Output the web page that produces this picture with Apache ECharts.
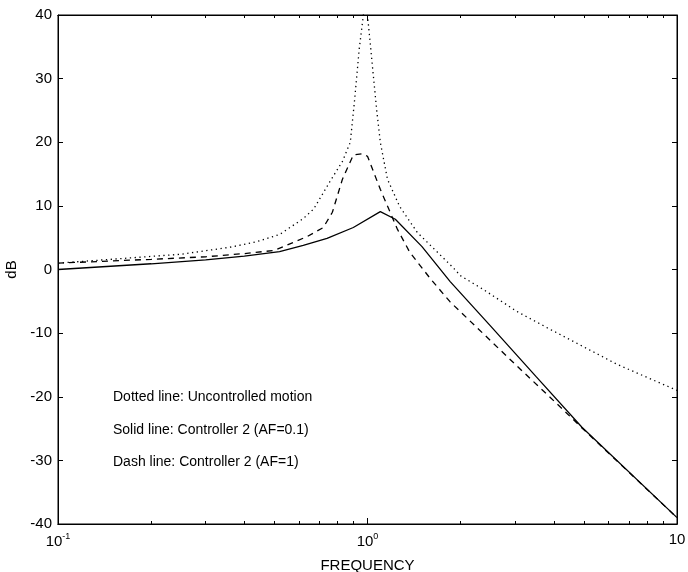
<!DOCTYPE html>
<html>
<head>
    <meta charset="utf-8">
    <title>dB vs frequency</title>
    <script src="https://cdn.jsdelivr.net/npm/echarts@6/dist/echarts.min.js"></script>
    <style>
        html, body {margin: 0; padding: 0; background: #fff;}
        #container {width: 688px; height: 572px;}
    </style>
</head>
<body>
<div id="container"></div>

<script type="text/javascript">
    // 数据
    var dottedFreq = [0.1, 0.25, 0.36, 0.44, 0.52, 0.62, 0.67, 0.76, 0.83, 0.88, 0.91, 0.94, 0.97, 0.985, 1.0, 1.04, 1.07, 1.1, 1.16, 1.27, 1.45, 1.75, 1.89, 2.0, 2.36, 3.04, 3.89, 4.97, 6.4, 10];
    var dottedDb   = [1.0, 2.4, 3.5, 4.4, 5.5, 8.0, 9.5, 14.0, 17.0, 20.0, 27.0, 34.6, 40.0, 46.0, 40.0, 31.4, 25.2, 20.0, 14.2, 9.9, 5.8, 1.9, 0.3, -1.0, -3.1, -6.6, -9.4, -12.1, -14.9, -19.0];

    var solidFreq = [0.1, 0.2, 0.3, 0.4, 0.52, 0.62, 0.74, 0.9, 1.1, 1.23, 1.5, 1.85, 2.5, 3.5, 4.93, 10];
    var solidDb   = [0.0, 0.9, 1.5, 2.1, 2.8, 3.8, 4.9, 6.6, 9.1, 7.9, 3.6, -1.9, -8.9, -16.8, -24.8, -39.0];

    var dashFreq = [0.1, 0.2, 0.3, 0.4, 0.5, 0.64, 0.72, 0.77, 0.83, 0.9, 0.96, 1.0, 1.1, 1.25, 1.37, 1.6, 1.85, 2.5, 3.0, 4.28, 4.93, 10];
    var dashDb   = [1.0, 1.6, 2.0, 2.5, 3.0, 5.2, 6.6, 9.0, 14.2, 18.0, 18.2, 17.8, 12.6, 6.3, 2.7, -1.5, -5.1, -11.2, -14.9, -22.0, -24.9, -39.0];

    // 刻度
    var xMajorTicks = [0.1, 1, 10];
    var xTickBase = ['10', '10', '10'];
    var xTickExp = ['-1', '0', ''];
    var xMinorTicks = [0.2, 0.3, 0.4, 0.5, 0.6, 0.7, 0.8, 0.9, 2, 3, 4, 5, 6, 7, 8, 9];
    var yTicks = [-40, -30, -20, -10, 0, 10, 20, 30, 40];

    var notes = ['Dotted line: Uncontrolled motion', 'Solid line: Controller 2 (AF=0.1)', 'Dash line: Controller 2 (AF=1)'];

    function pairs(xs, ys) {
        var out = [];
        for (var i = 0; i < xs.length; i++) {
            out.push([xs[i], ys[i]]);
        }
        return out;
    }

    var font = "'Liberation Sans', Arial, sans-serif";

    function xLabel(v) {
        var i = Math.round(Math.log(v) / Math.LN10) + 1;
        if (i < 0 || i >= xTickBase.length) return '';
        return '{b|' + xTickBase[i] + '}' + (xTickExp[i] ? '{s|' + xTickExp[i] + '}' : '');
    }

    function logAxis(pos, ticks, len) {
        return {
            type: 'log',
            logBase: 10,
            position: pos,
            min: 0.1,
            max: 10,
            axisLine: {show: true, onZero: false, lineStyle: {color: '#000', width: 1}},
            axisTick: {show: true, inside: true, length: len, customValues: ticks, lineStyle: {color: '#000'}},
            axisLabel: {show: false},
            splitLine: {show: false},
            minorTick: {show: false}
        };
    }

    var mychart = echarts.init(document.getElementById('container'));

    var xBottom = logAxis('bottom', xMajorTicks, 6);
    xBottom.name = 'FREQUENCY';
    xBottom.nameLocation = 'middle';
    xBottom.nameGap = 34;
    xBottom.nameTextStyle = {color: '#000', fontSize: 15, fontFamily: font};
    xBottom.axisLabel = {
        show: true,
        customValues: xMajorTicks,
        margin: 8,
        formatter: xLabel,
        rich: {
            b: {color: '#000', fontSize: 15, fontFamily: font},
            s: {color: '#000', fontSize: 9, fontFamily: font, padding: [0, 0, 10, 0]}
        }
    };

    var options = {
        backgroundColor: '#fff',
        animation: false,
        grid: {left: 58, right: 11, top: 15, bottom: 48, show: true, borderColor: '#000', borderWidth: 1,
            containLabel: false, outerBoundsMode: 'none'},
        xAxis: [
            xBottom,
            logAxis('bottom', xMinorTicks, 3),
            logAxis('top', xMajorTicks, 6),
            logAxis('top', xMinorTicks, 3)
        ],
        yAxis: [
            {
                type: 'value', position: 'left', min: -40, max: 40, interval: 10,
                name: 'dB', nameLocation: 'middle', nameGap: 28, nameRotate: 90,
                nameTextStyle: {color: '#000', fontSize: 15, fontFamily: font},
                axisLine: {show: true, onZero: false, lineStyle: {color: '#000'}},
                axisTick: {show: true, inside: true, length: 5, lineStyle: {color: '#000'}},
                axisLabel: {color: '#000', fontSize: 15, fontFamily: font, margin: 6, customValues: yTicks},
                splitLine: {show: false}
            },
            {
                type: 'value', position: 'right', min: -40, max: 40, interval: 10,
                axisLine: {show: true, onZero: false, lineStyle: {color: '#000'}},
                axisTick: {show: true, inside: true, length: 5, lineStyle: {color: '#000'}},
                axisLabel: {show: false},
                splitLine: {show: false}
            }
        ],
        series: [
            {
                name: 'Uncontrolled motion', type: 'line', data: pairs(dottedFreq, dottedDb),
                showSymbol: false, clip: true,
                lineStyle: {color: '#000', width: 1.3, type: [1.3, 3.5]}
            },
            {
                name: 'Controller 2 (AF=0.1)', type: 'line', data: pairs(solidFreq, solidDb),
                showSymbol: false, clip: true,
                lineStyle: {color: '#000', width: 1.3, type: 'solid'}
            },
            {
                name: 'Controller 2 (AF=1)', type: 'line', data: pairs(dashFreq, dashDb),
                showSymbol: false, clip: true,
                lineStyle: {color: '#000', width: 1.3, type: [6, 5]}
            }
        ],
        graphic: [
            {type: 'text', left: 113, top: 390, style: {text: notes[0], fill: '#000', font: '14px ' + font}},
            {type: 'text', left: 113, top: 423, style: {text: notes[1], fill: '#000', font: '14px ' + font}},
            {type: 'text', left: 113, top: 455, style: {text: notes[2], fill: '#000', font: '14px ' + font}}
        ]
    };

    mychart.setOption(options);
</script>
</body>
</html>
